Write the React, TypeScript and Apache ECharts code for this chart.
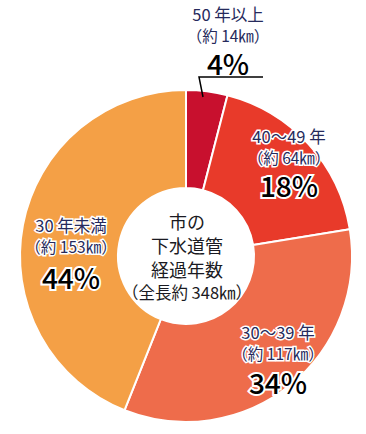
import React, { useEffect, useRef } from "react";
import * as echarts from "echarts";

const categories = ["50 年以上", "40～49 年", "30～39 年", "30 年未満"];
const lengthsKm = [14, 64, 117, 153];
const percentLabels = ["4%", "18%", "34%", "44%"];
const totalKm = 348;
const centerLines = ["市の", "下水道管", "経過年数"];
const colors = ["#c8102e", "#e83a2a", "#ee6c4b", "#f4a046"];

// label anchor layout (x center, y of first line centre)
const labelLayout = [
  { x: 228, y: 14, pctY: 63, halo: false },
  { x: 289, y: 136, pctY: 185, halo: true },
  { x: 278, y: 332, pctY: 382, halo: true },
  { x: 71, y: 225, pctY: 277, halo: true },
];

const FONT = '"Noto Sans CJK JP", "Noto Sans", sans-serif';

export default function App() {
  const ref = useRef<HTMLDivElement>(null);
  useEffect(() => {
    document.body.style.margin = "0";
    if (!ref.current) return;
    const chart = echarts.init(ref.current, undefined, { renderer: "svg" });
    const graphics: any[] = [];
    categories.forEach((name, i) => {
      const l = labelLayout[i];
      const halo = l.halo ? { stroke: "#fff", lineWidth: 3 } : {};
      graphics.push({
        type: "text",
        z: 100,
        x: l.x,
        y: l.y,
        style: {
          text: name,
          font: `16.5px ${FONT}`,
          fill: "#262a5c",
          align: "center",
          verticalAlign: "middle",
          ...halo,
        },
      });
      graphics.push({
        type: "text",
        z: 100,
        x: l.x,
        y: l.y + 21,
        style: {
          text: `（約 ${lengthsKm[i]}㎞）`,
          font: `15.5px ${FONT}`,
          fill: "#262a5c",
          align: "center",
          verticalAlign: "middle",
          ...halo,
        },
      });
      graphics.push({
        type: "text",
        z: 100,
        x: l.x,
        y: l.pctY,
        style: {
          text: percentLabels[i],
          font: `500 28px ${FONT}`,
          fill: "#000",
          align: "center",
          verticalAlign: "middle",
          ...(l.halo ? { stroke: "#fff", lineWidth: 4 } : {}),
        },
      });
    });
    graphics.push({
      type: "polyline",
      z: 100,
      shape: { points: [[203, 97], [199, 77], [263, 77]] },
      style: { stroke: "#000", lineWidth: 1.5, fill: null },
    });
    centerLines.forEach((t, i) => {
      graphics.push({
        type: "text",
        z: 100,
        x: 187,
        y: 221 + i * 24,
        style: {
          text: t,
          font: `18px ${FONT}`,
          fill: "#1a1a22",
          align: "center",
          verticalAlign: "middle",
        },
      });
    });
    graphics.push({
      type: "text",
      z: 100,
      x: 187,
      y: 292,
      style: {
        text: `（全長約 ${totalKm}㎞）`,
        font: `16.5px ${FONT}`,
        fill: "#1a1a22",
        align: "center",
        verticalAlign: "middle",
      },
    });

    chart.setOption({
      animation: false,
      series: [
        {
          type: "pie",
          center: [186, 256],
          radius: [68, 166],
          startAngle: 90,
          clockwise: true,
          silent: true,
          z: 1,
          label: { show: false },
          labelLine: { show: false },
          itemStyle: { borderColor: "#fff", borderWidth: 2 },
          data: categories.map((name, i) => ({
            name,
            value: lengthsKm[i],
            itemStyle: { color: colors[i] },
          })),
        },
      ],
      graphic: graphics,
    });
    return () => chart.dispose();
  }, []);
  return <div ref={ref} style={{ width: 366, height: 434 }} />;
}
